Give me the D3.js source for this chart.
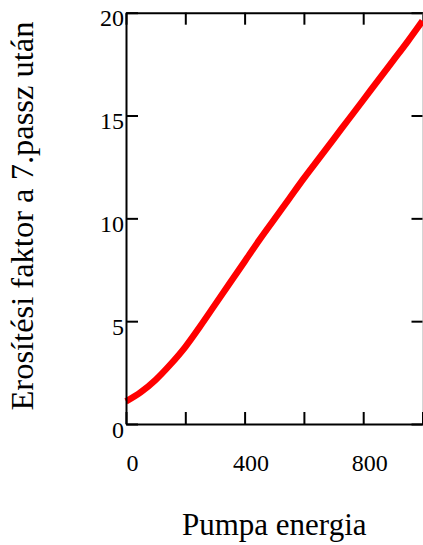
<!DOCTYPE html>
<html>
<head>
<meta charset="utf-8">
<script src="https://cdn.jsdelivr.net/npm/d3@7"></script>
<style>
  html, body { margin: 0; padding: 0; background: #fff; overflow: hidden; }
  svg { display: block; }
</style>
</head>
<body>
<svg id="chart"></svg>
<script>
// pump energy (x) and gain factor after the 7th pass (y)
var energy = [0, 50, 100, 150, 200, 250, 300, 350, 400, 450, 500, 550, 600, 650, 700, 750, 800, 850, 900, 950, 1000];
var gain = [1.1, 1.55, 2.15, 2.9, 3.75, 4.75, 5.8, 6.85, 7.9, 8.95, 9.95, 10.95, 11.95, 12.9, 13.85, 14.8, 15.75, 16.7, 17.65, 18.6, 19.6];

var xTicks = [0, 200, 400, 600, 800, 1000];
var xLabels = [0, 400, 800];
var yTicks = [0, 5, 10, 15, 20];

var xTitle = 'Pumpa energia';
var yTitle = 'Erosítési faktor a 7.passz után';

(function(d3) {
    'use strict';

    var serif = '"Liberation Serif", "Times New Roman", serif';

    var width = 423;
    var height = 545;

    var left = 126;
    var right = 422.5;
    var top = 12.7;
    var bottom = 424;

    var svg = d3.select('#chart')
        .attr('width', width)
        .attr('height', height)
        .attr('font-family', serif);

    var scaleX = d3.scaleLinear().domain([0, 1000]).range([left, right]);
    var scaleY = d3.scaleLinear().domain([0, 20]).range([bottom, top]);

    function styleAxis(g, color) {
        g.attr('font-family', serif).attr('font-size', 24);
        g.select('.domain').attr('stroke', color).attr('stroke-width', 2);
        g.selectAll('.tick line').attr('stroke', color).attr('stroke-width', 2);
        g.selectAll('.tick text').attr('fill', '#000');
    }

    // top and right frame (ticks only)
    svg.append('g')
        .attr('transform', 'translate(0,' + top + ')')
        .call(d3.axisTop(scaleX).tickValues(xTicks).tickSizeInner(-12).tickSizeOuter(0).tickFormat(''))
        .call(function(g) { styleAxis(g, '#000'); });

    svg.append('g')
        .attr('transform', 'translate(' + right + ',0)')
        .call(d3.axisRight(scaleY).tickValues(yTicks).tickSizeInner(-11).tickSizeOuter(0).tickFormat(''))
        .call(function(g) {
            styleAxis(g, '#000');
            g.select('.domain').attr('stroke', '#aaa').attr('stroke-width', 1);
        });

    // data line
    var line = d3.line()
        .x(function(d, i) { return scaleX(energy[i]); })
        .y(function(d) { return scaleY(d); })
        .curve(d3.curveMonotoneX);

    svg.append('path')
        .datum(gain)
        .attr('d', line)
        .attr('fill', 'none')
        .attr('stroke', '#ff0000')
        .attr('stroke-width', 6.5)
        .attr('stroke-linejoin', 'round');

    // bottom axis
    svg.append('g')
        .attr('transform', 'translate(0,' + bottom + ')')
        .call(d3.axisBottom(scaleX).tickValues(xTicks).tickSizeInner(-12).tickSizeOuter(0)
            .tickFormat(function(d) { return xLabels.indexOf(d) >= 0 ? d : ''; }))
        .call(function(g) {
            styleAxis(g, '#000');
            g.selectAll('.tick text').attr('y', 47).attr('dy', 0).attr('dx', 6);
        });

    // left axis
    svg.append('g')
        .attr('transform', 'translate(' + left + ',0)')
        .call(d3.axisLeft(scaleY).tickValues(yTicks).tickSizeInner(-12).tickSizeOuter(0))
        .call(function(g) {
            styleAxis(g, '#000');
            g.selectAll('.tick text').attr('x', -2).attr('y', 13).attr('dy', 0);
        });

    // axis titles
    svg.append('text')
        .attr('x', (left + right) / 2)
        .attr('y', 535)
        .attr('text-anchor', 'middle')
        .attr('font-size', 31)
        .text(xTitle);

    svg.append('text')
        .attr('transform', 'translate(33,216) rotate(-90)')
        .attr('text-anchor', 'middle')
        .attr('font-size', 32.5)
        .text(yTitle);

}(window.d3));
</script>
</body>
</html>
